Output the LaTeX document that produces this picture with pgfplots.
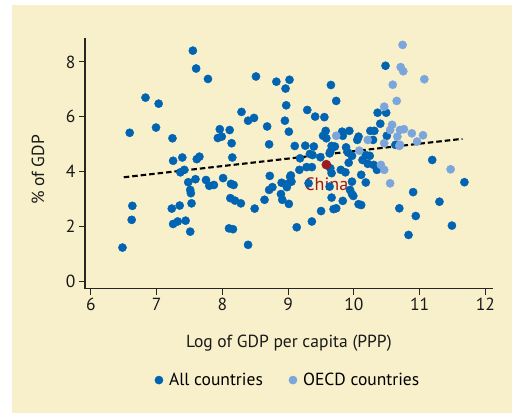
\documentclass[border=0pt]{standalone}
\usepackage{pgfplots}
\pgfplotsset{compat=1.18}
\usepackage{fontspec}
\setmainfont{PT Sans}
\definecolor{bg}{HTML}{F7F0CB}
\definecolor{darkb}{HTML}{0064B2}
\definecolor{lightb}{HTML}{7BA6DC}
\definecolor{chred}{HTML}{9C1A1F}
\begin{document}
\begin{tikzpicture}
\useasboundingbox (0,0) rectangle (512pt,413pt);
\fill[white] (0,0) rectangle (512pt,413pt);
\fill[bg] (12pt,0) rectangle (512pt,408pt);
\begin{axis}[
  at={(85pt,124.5pt)}, anchor=south west,
  scale only axis, width=407.7pt, height=250.2pt,
  xmin=5.91, xmax=12.11, ymin=-0.25, ymax=8.86,
  axis x line*=bottom, axis y line*=left,
  axis line style={line width=1.1pt, draw=black!85},
  xtick={6,7,8,9,10,11,12}, ytick={0,2,4,6,8},
  tick align=outside, major tick length=6pt,
  tick style={line width=1pt, black!85},
  minor tick num=0,
  /pgf/number format/assume math mode=true,
  ticklabel style={font=\fontsize{17.5}{20}\selectfont, text=black!90},
  xlabel={Log of GDP per capita (PPP)},
  ylabel={\% of GDP},
  label style={font=\fontsize{17.5}{20}\selectfont, text=black!90},
  xlabel style={at={(axis description cs:0.5,-0.218)}, anchor=center},
  ylabel style={at={(axis description cs:-0.115,0.474)}, anchor=center},
  legend style={at={(axis description cs:0.498,-0.366)}, anchor=center, draw=none, fill=none,
    font=\fontsize{17.5}{20}\selectfont, legend columns=2,
    /tikz/every odd column/.append style={column sep=4pt},
    /tikz/every even column/.append style={column sep=24pt}},
  legend cell align=left,
  clip=false,
]
\addplot[only marks, mark=*, mark size=4.1pt, darkb, mark options={draw=none, fill=darkb}] coordinates {
(7.55,8.41) (7.60,7.76) (7.78,7.38) (8.51,7.47) (8.82,7.28) (9.02,7.35) (8.96,7.03)
(6.83,6.70) (7.03,6.48) (8.97,6.42) (8.29,6.18) (8.39,5.86) (8.48,5.96) (8.95,5.86)
(8.68,5.65) (9.01,5.46) (6.59,5.42) (6.99,5.61) (7.24,5.22) (7.96,5.55) (8.11,5.52)
(7.93,5.23) (7.99,5.28) (8.14,5.04) (8.71,5.00) (9.10,4.94) (7.39,4.52) (7.25,4.40)
(7.65,4.55) (7.61,4.46) (8.15,4.52)
(7.36,3.98) (7.42,4.07) (7.48,3.62) (7.59,3.73) (7.51,3.34) (7.52,3.22) (7.53,2.85)
(6.63,2.76) (6.62,2.25) (6.48,1.24) (7.23,2.66) (7.35,2.77) (7.25,2.10) (7.32,2.19)
(7.44,2.22) (7.51,1.82) (7.75,3.70) (7.80,3.49) (7.87,3.52) (8.01,3.77) (8.13,3.56)
(8.17,3.52) (8.12,3.04) (8.19,2.95) (8.28,2.85) (8.49,2.66) (8.10,1.94) (8.16,1.91)
(8.39,1.34) (8.64,2.98) (8.72,3.85) (8.71,3.34) (8.76,3.44) (8.89,3.19) (8.91,2.98)
(9.01,2.83) (8.98,3.55) (9.05,3.64) (9.04,3.87) (9.13,1.98) (9.17,4.07) (9.18,4.49)
(9.37,4.61) (9.49,4.53) (9.63,4.67) (9.97,4.58) (9.92,4.33) (10.18,4.61) (10.24,4.58)
(9.28,4.17) (9.31,3.58) (9.66,3.95) (9.80,4.07) (9.87,3.98) (10.11,3.89) (10.18,3.61)
(10.30,4.25) (10.35,4.07) (11.19,4.43) (11.68,3.62) (9.66,3.06) (9.83,2.94) (9.97,3.19)
(9.99,3.12) (10.07,2.82) (10.11,2.79) (9.50,2.57) (9.69,2.64) (9.73,2.67) (9.36,2.19)
(10.69,2.67) (10.90,3.26) (10.94,2.39) (10.83,1.70) (11.30,2.91) (11.49,2.04)
(9.33,4.65) (9.91,4.70) (9.36,4.17) (9.64,4.13) (10.13,4.43) (10.21,4.29) (8.90,3.60)
(8.98,3.44) (9.03,3.82) (9.94,3.34) (9.97,3.64) (9.63,3.46)
(10.48,7.86) (9.65,7.16) (9.73,6.58) (10.36,6.15) (10.49,6.15) (9.29,6.25) (9.41,6.01)
(9.55,5.99) (10.40,5.75) (9.57,5.49) (9.53,5.31) (9.58,5.22) (9.83,5.31) (9.82,5.46)
(9.93,5.49) (10.07,5.28) (10.05,5.16) (10.25,5.49) (10.31,5.49) (10.29,5.16) (10.50,5.31)
(10.63,4.98) (9.26,4.95) (9.39,4.92) (9.66,4.94) (9.71,4.92) (9.64,4.73) (9.88,4.89)
};
\addlegendentry{All countries}
\addplot[only marks, mark=*, mark size=4.1pt, lightb, mark options={draw=none, fill=lightb}] coordinates {
(10.74,8.62) (10.71,7.81) (10.75,7.66) (11.07,7.37) (10.59,7.17) (10.65,6.58) (10.46,6.37)
(10.58,5.71) (10.55,5.52) (9.73,5.31) (10.21,5.16) (10.70,5.52) (10.76,5.55) (10.88,5.40)
(11.05,5.33) (10.66,5.28) (10.70,4.98) (10.96,5.10) (10.46,5.04) (10.08,4.77) (10.69,4.94)
(10.41,4.25) (10.46,4.07) (10.55,3.58) (11.47,4.09)
};
\addlegendentry{OECD countries}
\addplot[black, line width=2.1pt, dash pattern=on 5.5pt off 3pt, forget plot] coordinates {(6.5,3.8) (11.65,5.2)};
\addplot[only marks, mark=*, mark size=4.6pt, chred, mark options={draw=none, fill=chred}, forget plot] coordinates {(9.58,4.26)};
\node[text=chred, font=\fontsize{18}{20}\selectfont] at (axis cs:9.58,3.56) {China};
\end{axis}
\end{tikzpicture}
\end{document}
